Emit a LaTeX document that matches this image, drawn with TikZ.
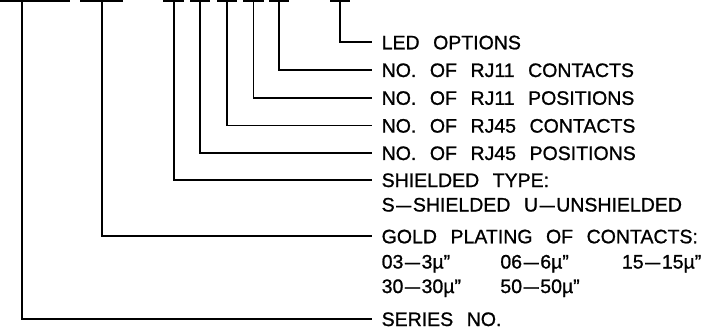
\documentclass[tikz,border=0pt]{standalone}
\usepackage{graphicx}
\usepackage{fontspec}
\setmainfont[WordSpace={2.5,0,0},FakeBold=1]{Liberation Sans}
\newcommand{\dsh}{\kern1.5pt\scalebox{0.78}[1]{—}\kern1.5pt}
\begin{document}
\begin{tikzpicture}[x=1pt,y=-1pt,
  lw/.style={line width=1.8pt},
  bar/.style={line width=1.8pt},
  lbl/.style={anchor=west, inner xsep=10pt, inner ysep=0pt, outer sep=0pt,
    text height=14pt, text depth=0pt, font=\fontsize{19.5}{23}\selectfont}]
\useasboundingbox (0,0) rectangle (720,334);
% top code bars
\draw[bar] (0,1) -- (70,1);
\draw[bar] (80,1) -- (123,1);
\draw[bar] (163,1) -- (184,1);
\draw[bar] (190,1) -- (210,1);
\draw[bar] (217,1) -- (237,1);
\draw[bar] (243,1) -- (264,1);
\draw[bar] (269,1) -- (289,1);
\draw[bar] (330,1) -- (350,1);
\coordinate (s1) at (21.7,1);
\coordinate (s2) at (101.7,1);
\coordinate (s3) at (173.6,1);
\coordinate (s4) at (200.3,1);
\coordinate (s5) at (226.8,1);
\coordinate (s6) at (253.4,1);
\coordinate (s7) at (279,1);
\coordinate (s8) at (339.8,1);
% labels
\node[lbl] (led) at (371.7,42.3) {LED OPTIONS};
\node[lbl] (rj11c) at (371.7,70) {NO. OF RJ11 CONTACTS};
\node[lbl] (rj11p) at (371.7,97.8) {NO. OF RJ11 POSITIONS};
\node[lbl] (rj45c) at (371.7,125.6) {NO. OF RJ45 CONTACTS};
\node[lbl] (rj45p) at (371.7,153) {NO. OF RJ45 POSITIONS};
\node[lbl] (shield) at (371.7,180) {SHIELDED TYPE:};
\node[lbl] (shieldb) at (371.7,204.5) {S\dsh SHIELDED U\dsh UNSHIELDED};
\node[lbl] (gold) at (371.7,236.3) {GOLD PLATING OF CONTACTS:};
\node[lbl] (goldb) at (371.7,261.5) {\makebox[118.7pt][l]{03\dsh 3µ”}\makebox[121.6pt][l]{06\dsh 6µ”}15\dsh 15µ”};
\node[lbl] (goldc) at (371.7,286) {\makebox[118.7pt][l]{30\dsh 30µ”}50\dsh 50µ”};
\node[lbl] (series) at (371.7,319) {SERIES NO.};
% connectors
\draw[lw] (s8) |- (led);
\draw[lw] (s7) |- (rj11c);
\draw[lw] (s6) |- (rj11p);
\draw[lw] (s5) |- (rj45c);
\draw[lw] (s4) |- (rj45p);
\draw[lw] (s3) |- (shield);
\draw[lw] (s2) |- (gold);
\draw[lw] (s1) |- (series);
\end{tikzpicture}
\end{document}
